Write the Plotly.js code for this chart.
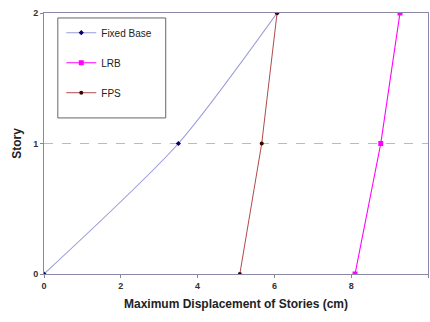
<!DOCTYPE html>
<html><head><meta charset="utf-8">
<script src="https://cdn.plot.ly/plotly-3.0.1.min.js"></script>
<style>body{margin:0;background:#fff}#c{width:430px;height:322px}</style>
</head><body><div id="c"></div>
<script>
const stories = [0, 1, 2];
const fixedBase = [0, 3.5, 6.07];
const lrb = [8.1, 8.77, 9.27];
const fps = [5.1, 5.67, 6.07];
const xTicks = [0, 2, 4, 6, 8, 10];
const yTicks = [0, 1, 2];

const traces = [
  {x: fixedBase, y: stories, name: 'Fixed Base', mode: 'lines+markers', legendgroup: 'a',
   line: {color: '#9a9ad8', width: 1.1, shape: 'spline', smoothing: 0.7},
   marker: {color: '#000070', size: 4, symbol: 'diamond'}},
  {x: lrb, y: stories, name: 'LRB', mode: 'lines+markers', legendgroup: 'b',
   line: {color: '#ff00ff', width: 1.1},
   marker: {color: '#ff00ff', size: 5, symbol: 'square'}},
  {x: fps, y: stories, name: 'FPS', mode: 'lines+markers', legendgroup: 'c',
   line: {color: '#b04a4a', width: 1},
   marker: {color: '#400000', size: 4, symbol: 'circle'}}
];

const layout = {
  width: 430, height: 322,
  margin: {l: 44, r: 2, t: 13, b: 48},
  paper_bgcolor: '#fff', plot_bgcolor: '#fff',
  font: {family: 'Liberation Sans, Arial, sans-serif', color: '#222'},
  showlegend: true,
  legend: {x: 0.045, y: 0.98, xanchor: 'left', yanchor: 'top', bgcolor: 'rgba(0,0,0,0)',
    borderwidth: 0, tracegroupgap: 11, itemwidth: 30, font: {size: 10, color: '#222'}},
  shapes: [{type: 'rect', xref: 'paper', yref: 'paper', x0: 0.036, x1: 0.317, y0: 0.598, y1: 0.981,
    line: {color: '#666', width: 1}, fillcolor: 'rgba(0,0,0,0)'}],
  xaxis: {range: [0, 10], tickvals: xTicks, ticktext: xTicks.map(String), showgrid: false, zeroline: false,
    showline: true, linecolor: '#8a8aa8', linewidth: 1, mirror: true, ticks: 'outside', ticklen: 3, tickcolor: '#888',
    tickfont: {size: 9, color: '#333', weight: 'bold'},
    title: {text: '<b>Maximum Displacement of Stories (cm)</b>', font: {size: 12, color: '#222'}, standoff: 9}},
  yaxis: {range: [0, 2], tickvals: yTicks, ticktext: yTicks.map(String), showgrid: true, griddash: 'dash',
    gridcolor: '#bbbbbb', gridwidth: 1, zeroline: false,
    showline: true, linecolor: '#8a8aa8', linewidth: 1, mirror: true, ticks: 'outside', ticklen: 3, tickcolor: '#888',
    tickfont: {size: 9, color: '#333', weight: 'bold'},
    title: {text: '<b>Story</b>', font: {size: 12, color: '#222'}, standoff: 8}}
};
Plotly.newPlot('c', traces, layout, {displayModeBar: false, staticPlot: true});
</script></body></html>
